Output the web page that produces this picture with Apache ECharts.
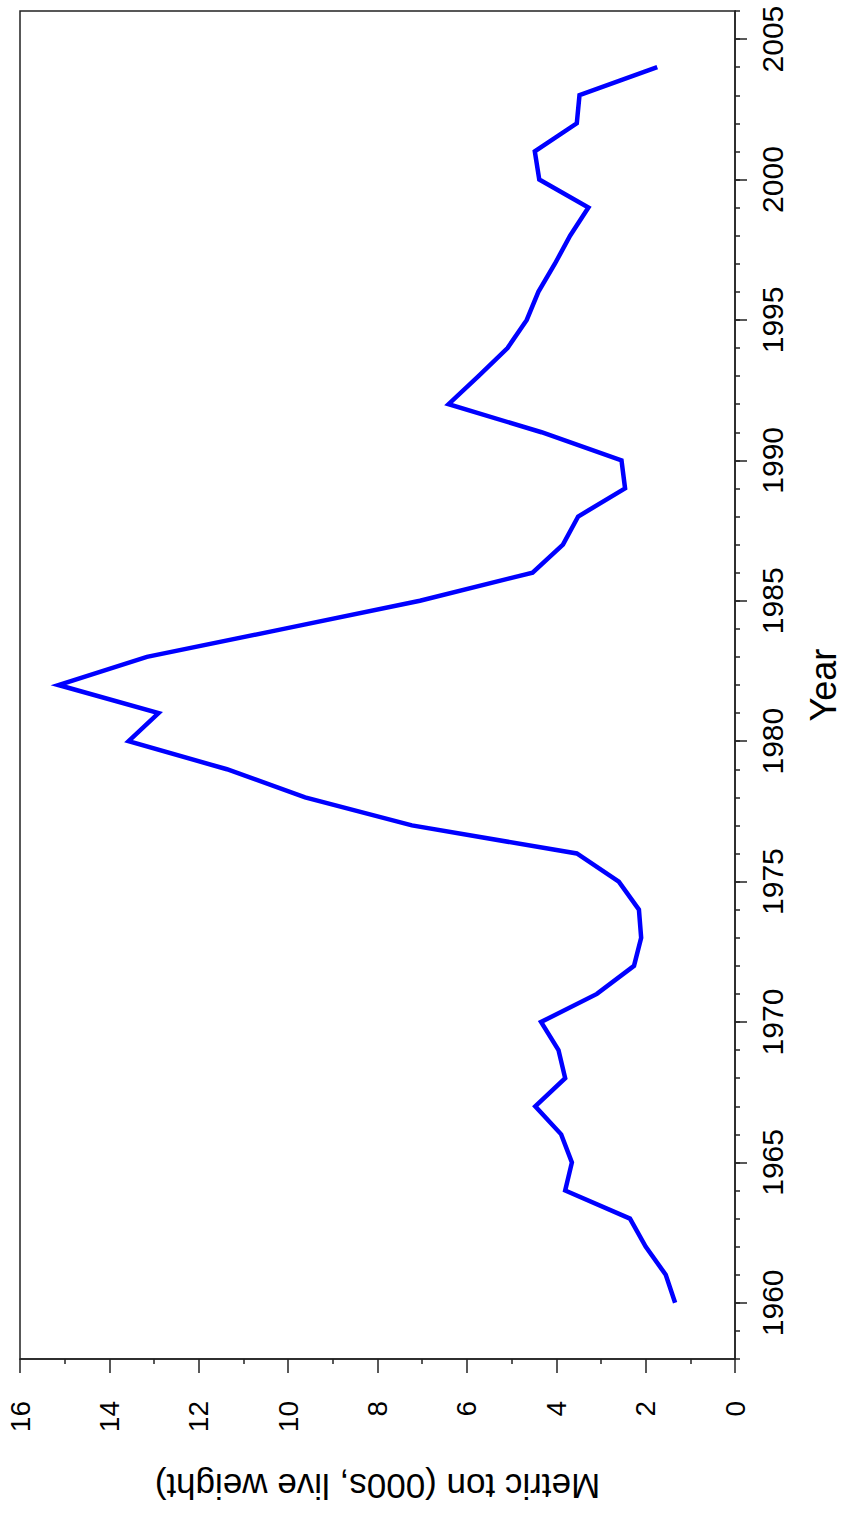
<!DOCTYPE html>
<html>
<head>
<meta charset="utf-8">
<style>
html,body{margin:0;padding:0;background:#fff;}
#chart{width:844px;height:1517px;}
</style>
<script src="https://cdn.jsdelivr.net/npm/echarts@6/dist/echarts.min.js"></script>
</head>
<body>
<div id="chart"></div>
<script>
const years = [1960,1961,1962,1963,1964,1965,1966,1967,1968,1969,1970,1971,1972,1973,1974,1975,1976,1977,1978,1979,1980,1981,1982,1983,1984,1985,1986,1987,1988,1989,1990,1991,1992,1993,1994,1995,1996,1997,1998,1999,2000,2001,2002,2003,2004];
const catch000t = [1.34,1.55,2.00,2.35,3.80,3.65,3.89,4.47,3.80,3.95,4.34,3.09,2.26,2.10,2.15,2.60,3.54,7.23,9.62,11.37,13.57,12.90,15.14,13.16,10.10,7.05,4.53,3.85,3.51,2.46,2.54,4.33,6.41,5.74,5.09,4.66,4.40,4.03,3.69,3.28,4.38,4.48,3.54,3.48,1.74];
const yearTicks = [1960,1965,1970,1975,1980,1985,1990,1995,2000,2005];
const valueTicks = [0,2,4,6,8,10,12,14,16];

const FONT = '"Liberation Sans", Arial, Helvetica, sans-serif';
const chart = echarts.init(document.getElementById('chart'), null, {renderer: 'svg'});
chart.setOption({
  animation: false,
  backgroundColor: '#fff',
  grid: {left: 20, right: 109, top: 11, bottom: 158, show: true, borderColor: '#222', borderWidth: 1.5, backgroundColor: 'transparent', containLabel: false, outerBoundsMode: 'none'},
  xAxis: {
    type: 'value', inverse: true, position: 'bottom',
    min: valueTicks[0], max: valueTicks[valueTicks.length - 1], interval: 2,
    axisLine: {show: true, lineStyle: {color: '#222', width: 1.5}},
    axisTick: {show: true, length: 14, lineStyle: {color: '#222', width: 1.5}},
    minorTick: {show: true, splitNumber: 2, length: 5, lineStyle: {color: '#222', width: 1.5}},
    axisLabel: {rotate: 90, fontSize: 28, margin: 42, color: '#000', fontFamily: FONT, formatter: v => String(v)},
    splitLine: {show: false},
    name: 'Metric ton (000s, live weight)', nameLocation: 'middle', nameRotate: 180, nameGap: 110,
    nameTextStyle: {fontSize: 35, color: '#000', fontFamily: FONT}
  },
  yAxis: [{
    type: 'value', position: 'right', min: 1958, max: 2006,
    axisLine: {show: true, lineStyle: {color: '#222', width: 1.5}},
    axisTick: {show: true, length: 12, customValues: yearTicks, lineStyle: {color: '#222', width: 1.5}},
    axisLabel: {rotate: 90, fontSize: 30, margin: 22, color: '#000', fontFamily: FONT, customValues: yearTicks, formatter: v => String(v)},
    splitLine: {show: false},
    name: 'Year', nameLocation: 'middle', nameRotate: 90, nameGap: 70,
    nameTextStyle: {fontSize: 36, color: '#000', fontFamily: FONT}
  }, {
    type: 'value', position: 'right', min: 1958, max: 2006, interval: 1,
    axisLine: {show: false},
    axisTick: {show: true, length: 5, lineStyle: {color: '#222', width: 1.5}},
    axisLabel: {show: false},
    splitLine: {show: false}
  }],
  series: [{
    type: 'line',
    yAxisIndex: 0,
    data: years.map((y, i) => [catch000t[i], y]),
    showSymbol: false,
    lineStyle: {color: '#0000ff', width: 4.5, join: 'miter'},
    itemStyle: {color: '#0000ff'}
  }]
});
</script>
</body>
</html>
